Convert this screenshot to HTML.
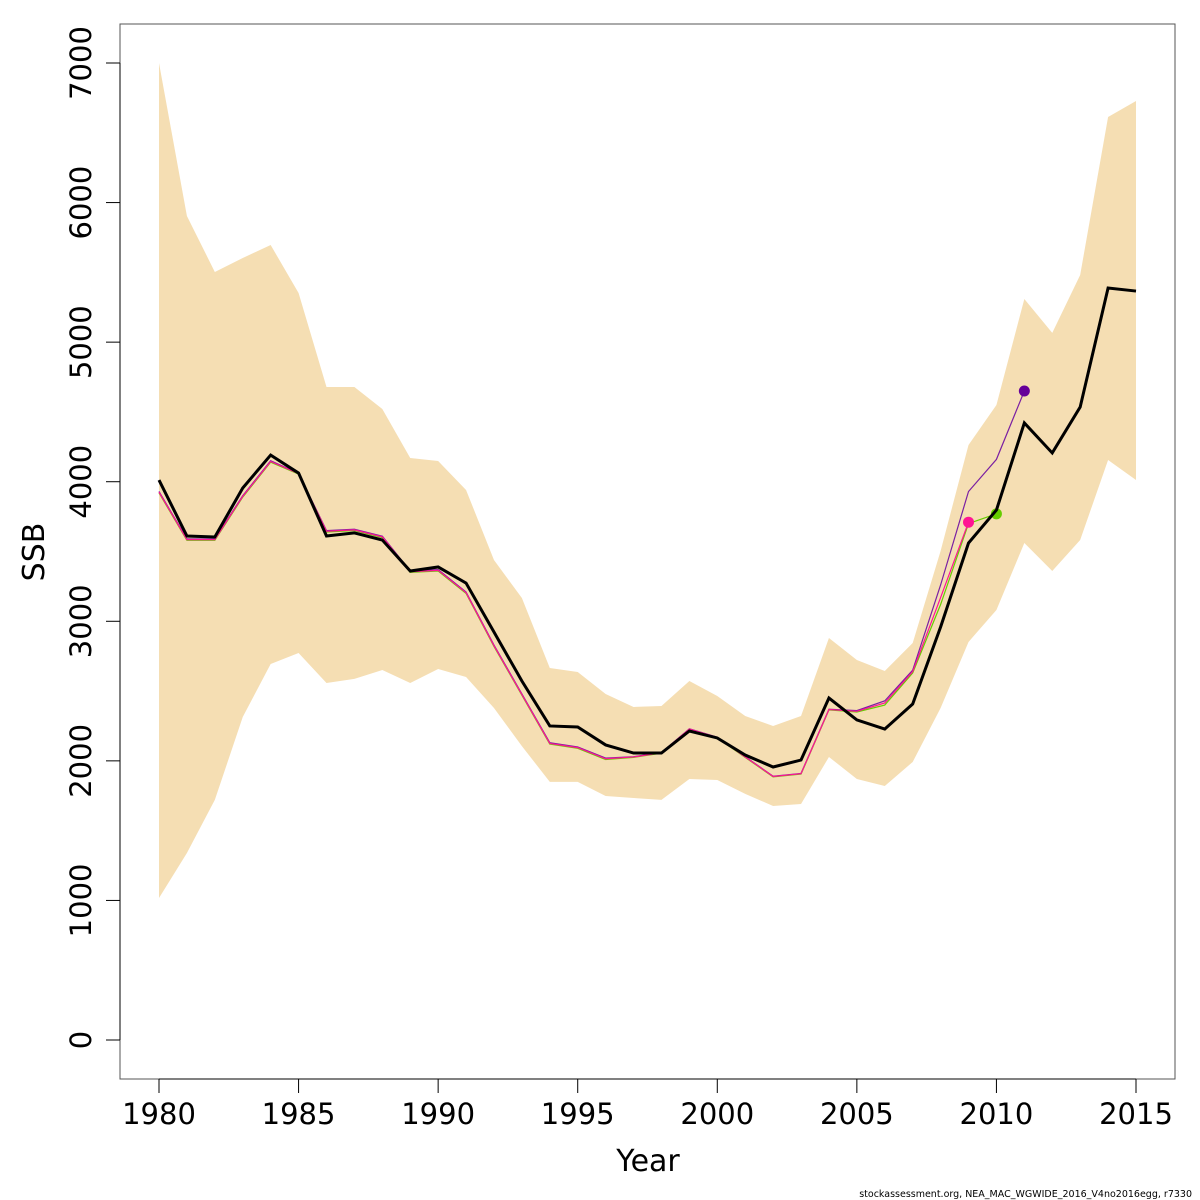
<!DOCTYPE html>
<html><head><meta charset="utf-8"><style>
html,body{margin:0;padding:0;background:#fff;}
svg{display:block;font-family:"DejaVu Sans","Liberation Sans",sans-serif;}
</style></head><body>
<svg id="chart" width="1200" height="1200" viewBox="0 0 1200 1200" xmlns="http://www.w3.org/2000/svg">
<g id="band"></g>
<g id="retros"></g>
<g id="main"></g>
<rect x="120" y="24" width="1055" height="1055" fill="none" stroke="#555" stroke-width="1"/>
<g id="xaxis"></g>
<g id="yaxis"></g>
<text x="648" y="1171" font-size="30" text-anchor="middle">Year</text>
<text transform="translate(44,552) rotate(-90)" font-size="30" text-anchor="middle">SSB</text>
<text x="1192" y="1197" font-size="9.5" text-anchor="end">stockassessment.org, NEA_MAC_WGWIDE_2016_V4no2016egg, r7330</text>
</svg>
<script>
const years=[1980,1981,1982,1983,1984,1985,1986,1987,1988,1989,1990,1991,1992,1993,1994,1995,1996,1997,1998,1999,2000,2001,2002,2003,2004,2005,2006,2007,2008,2009,2010,2011,2012,2013,2014,2015];
const ssb=[4012,3611,3604,3955,4191,4062,3611,3633,3582,3360,3389,3274,2923,2572,2250,2243,2114,2056,2056,2214,2164,2042,1956,2006,2450,2293,2228,2407,2959,3561,3797,4421,4206,4535,5388,5366];
const upper=[7000,5904,5503,5603,5696,5352,4679,4679,4521,4170,4148,3941,3439,3167,2665,2637,2479,2386,2393,2572,2465,2321,2250,2321,2880,2723,2644,2844,3504,4263,4550,5309,5066,5481,6613,6728];
const lower=[1017,1340,1720,2314,2694,2773,2558,2587,2651,2558,2658,2601,2379,2106,1849,1849,1748,1734,1720,1870,1863,1763,1677,1691,2028,1870,1820,1992,2379,2852,3081,3561,3360,3582,4156,4012];
const retroPurple=[3930,3590,3590,3900,4150,4060,3650,3660,3610,3360,3370,3210,2830,2480,2130,2100,2020,2030,2060,2230,2170,2030,1890,1910,2370,2360,2430,2650,3260,3930,4160,4650];
const retroGreen=[3920,3580,3580,3890,4140,4055,3640,3650,3600,3350,3360,3200,2820,2470,2120,2090,2010,2025,2055,2225,2165,2025,1885,1905,2365,2350,2400,2630,3120,3700,3770];
const retroPink=[3925,3585,3585,3895,4145,4058,3645,3655,3605,3355,3365,3205,2825,2475,2125,2095,2015,2028,2058,2228,2168,2028,1888,1908,2368,2355,2415,2640,3170,3710];
const xTicks=[1980,1985,1990,1995,2000,2005,2010,2015];
const yTicks=[0,1000,2000,3000,4000,5000,6000,7000];

const X=y=>159+(y-1980)*(1136-159)/35;
const Y=v=>1040-v*(1040-63)/7000;
const NS="http://www.w3.org/2000/svg";
function mk(tag,parent,attrs){const e=document.createElementNS(NS,tag);for(const k in attrs)e.setAttribute(k,attrs[k]);parent.appendChild(e);return e;}

const band=document.getElementById('band');
let pts=years.map((y,i)=>X(y)+','+Y(upper[i]));
for(let i=years.length-1;i>=0;i--)pts.push(X(years[i])+','+Y(lower[i]));
const poly=mk('polygon',band,{points:pts.join(' '),fill:'#f5deb3',stroke:'none'});



const retros=document.getElementById('retros');
const series=[[retroPurple,'#7a1fa2','retro-2011'],[retroGreen,'#66cc00','retro-2010'],[retroPink,'#ff1493','retro-2009']];
series.forEach(([d,c,n])=>{
  const l=mk('polyline',retros,{points:d.map((v,i)=>X(years[i])+','+Y(v)).join(' '),fill:'none',stroke:c,'stroke-width':1.2});
  
  
});
series.forEach(([d,c,n])=>{
  const k=d.length-1;
  const p=mk('circle',retros,{cx:X(years[k]),cy:Y(d[k]),r:5.5,fill:n==='retro-2011'?'#660099':c});
  
  
});

const main=document.getElementById('main');
const ml=mk('polyline',main,{points:ssb.map((v,i)=>X(years[i])+','+Y(v)).join(' '),fill:'none',stroke:'#000','stroke-width':3,'stroke-linejoin':'miter'});



const xa=document.getElementById('xaxis');
mk('line',xa,{x1:X(1980),x2:X(2015),y1:1079,y2:1079,stroke:'#000'});
xTicks.forEach(t=>{
  mk('line',xa,{x1:X(t),x2:X(t),y1:1079,y2:1093,stroke:'#000'});
  const tx=mk('text',xa,{x:X(t),y:1124,'font-size':29,'text-anchor':'middle'});
  tx.textContent=t;
  
  
});
const ya=document.getElementById('yaxis');
mk('line',ya,{x1:120,x2:120,y1:Y(0),y2:Y(7000),stroke:'#000'});
yTicks.forEach(t=>{
  mk('line',ya,{x1:106,x2:120,y1:Y(t),y2:Y(t),stroke:'#000'});
  const tx=mk('text',ya,{transform:`translate(91,${Y(t)}) rotate(-90)`,'font-size':29,'text-anchor':'middle'});
  tx.textContent=t;
  
  
});
</script>
</body></html>
